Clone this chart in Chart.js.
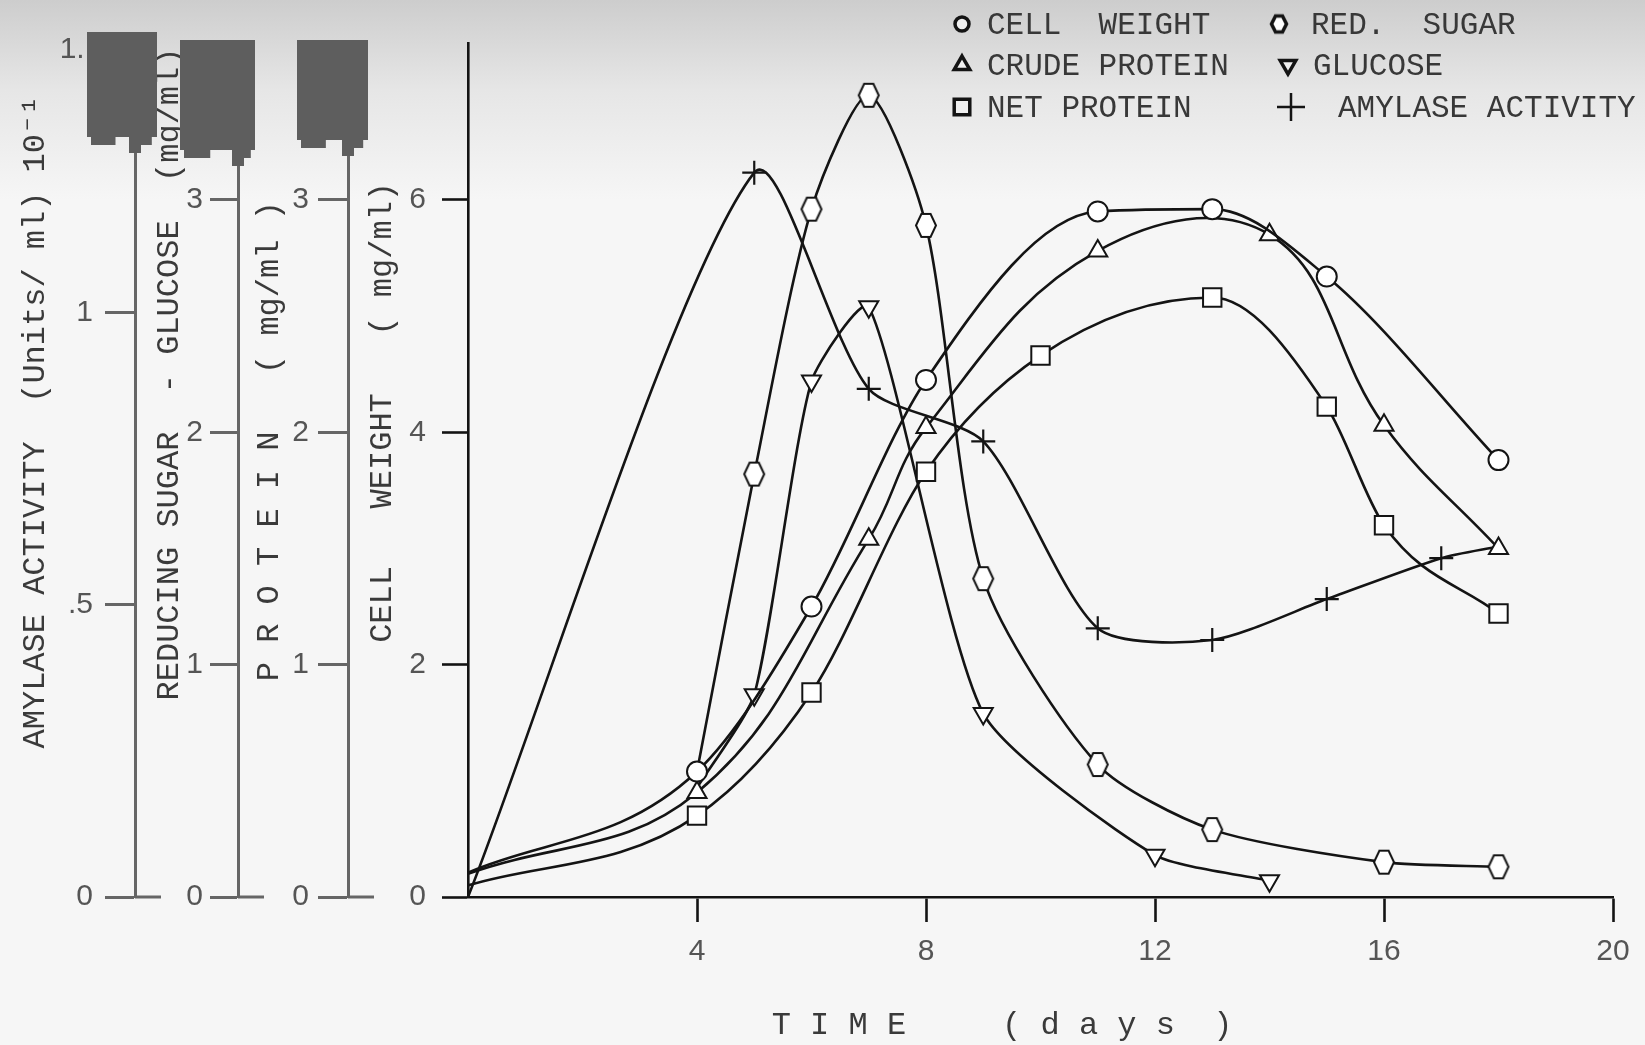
<!DOCTYPE html>
<html>
<head>
<meta charset="utf-8">
<script src="https://cdn.jsdelivr.net/npm/chart.js"></script>
<style>
  html, body { margin: 0; padding: 0; background: #f6f6f6; overflow: hidden; }
  #wrap { width: 1645px; height: 1045px; }
</style>
</head>
<body>
<div id="wrap"><canvas id="myChart" width="1645" height="1045"></canvas></div>
<script>
// values (days, and each series in its own axis units)
const cellDays = [0, 4, 6, 8, 11, 13, 15, 18];
const cellWeight = [0.21, 1.08, 2.50, 4.45, 5.90, 5.92, 5.34, 3.76];           // mg/ml
const crudeDays = [0, 4, 7, 8, 11, 14, 16, 18];
const crudeProtein = [0.10, 0.45, 1.54, 2.02, 2.78, 2.85, 2.03, 1.50];          // mg/ml
const netDays = [0, 4, 6, 8, 10, 13, 15, 16, 18];
const netProtein = [0.05, 0.35, 0.88, 1.83, 2.33, 2.58, 2.11, 1.60, 1.22];      // mg/ml
const sugarDays = [4, 5, 6, 7, 8, 9, 11, 13, 16, 18];
const redSugar = [0.54, 1.82, 2.96, 3.45, 2.89, 1.37, 0.57, 0.29, 0.15, 0.13];  // mg/ml
const glucoseDays = [4, 5, 6, 7, 9, 12, 14];
const glucose = [0.47, 0.87, 2.22, 2.54, 0.79, 0.18, 0.07];                     // mg/ml
const amylaseDays = [0, 5, 7, 9, 11, 13, 15, 17, 18];
const amylase = [0, 1.24, 0.87, 0.78, 0.46, 0.44, 0.51, 0.58, 0.60];            // units/ml x 10^-1

// tick labels
const dayTicks = [4, 8, 12, 16, 20];
const cellTicks = [0, 2, 4, 6];
const sugarTicks = [0, 1, 2, 3];
const proteinTicks = [0, 1, 2, 3];
const amylaseTicks = [0, 0.5, 1, 1.45];
const amylaseTickLabels = ['0', '.5', '1', '1. '];

const seriesNames = ['CELL  WEIGHT', 'CRUDE PROTEIN', 'NET PROTEIN', 'RED.  SUGAR', 'GLUCOSE', 'AMYLASE ACTIVITY'];

const MONO = '"Liberation Mono", "DejaVu Sans Mono", monospace';
const SANS = '"Liberation Sans", Arial, sans-serif';
const INK = '#141414';

const makeHexagon = (w, h, lw) => {
  const c = document.createElement('canvas');
  c.width = w + lw * 2;
  c.height = h + lw * 2;
  const g = c.getContext('2d');
  const ox = lw, oy = lw;
  g.lineWidth = lw;
  g.strokeStyle = INK;
  g.fillStyle = '#fff';
  g.beginPath();
  g.moveTo(ox, oy + h / 2);
  g.lineTo(ox + w * 0.27, oy);
  g.lineTo(ox + w * 0.73, oy);
  g.lineTo(ox + w, oy + h / 2);
  g.lineTo(ox + w * 0.73, oy + h);
  g.lineTo(ox + w * 0.27, oy + h);
  g.closePath();
  g.fill();
  g.stroke();
  return c;
};
const hexPoint = makeHexagon(20, 23, 2);
const hexLegend = makeHexagon(15, 16, 3.5);

const toXY = (days, vals) => days.map((d, i) => ({ x: d, y: vals[i] }));

// hidden: indices of points drawn without a marker
const makeSeries = (label, days, vals, axis, style, size, hidden, extra) => Object.assign({
  label: label,
  data: toXY(days, vals),
  yAxisID: axis,
  borderColor: INK,
  borderWidth: 2.6,
  tension: 0.4,
  fill: false,
  pointStyle: style,
  pointRadius: (ctx) => hidden.includes(ctx.dataIndex) ? 0 : size,
  pointBorderColor: INK,
  pointBackgroundColor: '#fff',
  pointBorderWidth: 2,
}, extra || {});

const configureData = () => ({
  datasets: [
    makeSeries(seriesNames[0], cellDays, cellWeight, 'cw', 'circle', 10, [0], { cubicInterpolationMode: 'monotone' }),
    makeSeries(seriesNames[1], crudeDays, crudeProtein, 'protein', 'triangle', 11, [0], { tension: 0.4 }),
    makeSeries(seriesNames[2], netDays, netProtein, 'protein', 'rect', 13, [0], { cubicInterpolationMode: 'monotone' }),
    makeSeries(seriesNames[3], sugarDays, redSugar, 'sugar', hexPoint, 9, [0], { tension: 0.25 }),
    makeSeries(seriesNames[4], glucoseDays, glucose, 'sugar', 'triangle', 11, [0], { tension: 0.2, pointRotation: 180 }),
    makeSeries(seriesNames[5], amylaseDays, amylase, 'amylase', 'cross', 12, [0, 8], { tension: 0.25, pointBorderWidth: 2.2 })
  ]
});

const fixedTicks = (values) => (scale) => { scale.ticks = values.map(v => ({ value: v })); };

const leftAxis = (o) => ({
  type: 'linear',
  position: 'left',
  weight: o.weight,
  min: 0,
  max: o.max,
  afterBuildTicks: fixedTicks(o.ticks),
  afterFit: (scale) => { scale.width = o.width; },
  border: { display: true, color: o.color, width: o.lineWidth },
  grid: { drawOnChartArea: false, drawTicks: true, tickLength: o.tickLength, tickColor: o.color, tickWidth: o.lineWidth },
  ticks: {
    padding: o.pad,
    color: '#555',
    font: { family: SANS, size: 30 },
    callback: o.callback || ((v) => String(v))
  },
  title: {
    display: true,
    text: o.title,
    color: '#3a3a3a',
    font: { family: MONO, size: 32 },
    padding: { top: o.titlePad, bottom: 0 }
  }
});

const paperPlugin = {
  id: 'paper',
  beforeDraw(chart) {
    const { ctx, width, height } = chart;
    ctx.save();
    const g = ctx.createLinearGradient(0, 0, 0, 200);
    g.addColorStop(0, '#cdcdcd');
    g.addColorStop(0.45, '#e6e6e6');
    g.addColorStop(1, '#f6f6f6');
    ctx.fillStyle = '#f6f6f6';
    ctx.fillRect(0, 0, width, height);
    ctx.fillStyle = g;
    ctx.fillRect(0, 0, width, 200);
    ctx.restore();
  },
  afterDraw(chart) {
    const { ctx, chartArea } = chart;
    ctx.save();
    // zero ticks crossing the three outer axes
    ['amylase', 'sugar', 'protein'].forEach((id) => {
      const s = chart.scales[id];
      const y = s.getPixelForValue(0);
      ctx.strokeStyle = '#666';
      ctx.lineWidth = 3;
      ctx.beginPath();
      ctx.moveTo(s.right, y);
      ctx.lineTo(s.right + 26, y);
      ctx.stroke();
    });
    // dark scanner blots at the top of the outer axes
    const blots = { amylase: [-48, 22, -11, 94], sugar: [-58, 17, -3, 107], protein: [-51, 20, -3, 97] };
    ctx.fillStyle = '#5e5e5e';
    Object.keys(blots).forEach((id) => {
      const s = chart.scales[id];
      const [l, r, t, b] = blots[id];
      const x0 = s.right + l, x1 = s.right + r, y0 = chartArea.top + t, y1 = chartArea.top + b;
      ctx.fillRect(x0, y0, x1 - x0, y1 - y0);
      ctx.fillRect(x0 + 4, y1 - 2, (x1 - x0) * 0.35, 10);
      ctx.fillRect(s.right - 6, y1 - 2, 12, 18);
      ctx.fillRect(s.right + 4, y1, (r - 6) * 0.8, 8);
    });
    // legend
    const items = [
      { ds: 0, mx: 962, tx: 987, y: 24 },
      { ds: 3, mx: 1279, tx: 1311, y: 24 },
      { ds: 1, mx: 962, tx: 987, y: 65 },
      { ds: 4, mx: 1288, tx: 1313, y: 65 },
      { ds: 2, mx: 962, tx: 987, y: 107 },
      { ds: 5, mx: 1291, tx: 1338, y: 107 }
    ];
    const legendStyle = [
      { pointStyle: 'circle', radius: 7, rotation: 0 },
      { pointStyle: 'triangle', radius: 9, rotation: 0 },
      { pointStyle: 'rect', radius: 11, rotation: 0 },
      { pointStyle: hexLegend, radius: 8, rotation: 0 },
      { pointStyle: 'triangle', radius: 9, rotation: 180 },
      { pointStyle: 'cross', radius: 14, rotation: 0 }
    ];
    items.forEach((it) => {
      const st = legendStyle[it.ds];
      ctx.strokeStyle = INK;
      ctx.fillStyle = '#f0f0f0';
      ctx.lineWidth = it.ds === 5 ? 2.5 : 3.5;
      if (Chart.helpers && Chart.helpers.drawPoint) {
        Chart.helpers.drawPoint(ctx, { pointStyle: st.pointStyle, radius: st.radius, rotation: st.rotation, borderWidth: ctx.lineWidth }, it.mx, it.y);
      }
      ctx.fillStyle = '#383838';
      ctx.font = '31px ' + MONO;
      ctx.textAlign = 'left';
      ctx.textBaseline = 'middle';
      ctx.fillText(chart.data.datasets[it.ds].label, it.tx, it.y + 2);
    });
    ctx.restore();
  }
};

const configureChart = (data) => ({
  type: 'line',
  data: data,
  options: {
    responsive: false,
    animation: false,
    devicePixelRatio: 1,
    layout: { padding: { top: 43, right: 32, left: 0, bottom: 0 } },
    plugins: { legend: { display: false }, tooltip: { enabled: false } },
    scales: {
      x: {
        type: 'linear',
        position: 'bottom',
        min: 0,
        max: 20,
        afterBuildTicks: fixedTicks(dayTicks),
        afterFit: (scale) => { scale.height = 148; },
        border: { display: true, color: INK, width: 2.6 },
        grid: { drawOnChartArea: false, drawTicks: true, tickLength: 25, tickColor: INK, tickWidth: 2.6 },
        ticks: { padding: 12, color: '#555', maxRotation: 0, font: { family: SANS, size: 30 } },
        title: {
          display: true,
          text: 'T I M E     ( d a y s  )    ',
          color: '#3a3a3a',
          font: { family: MONO, size: 32 },
          padding: { top: 0, bottom: 0 }
        }
      },
      cw: leftAxis({
        weight: 0, max: 7.35, ticks: cellTicks, width: 120, color: INK, lineWidth: 2.6,
        tickLength: 26, pad: 16, titlePad: 15, title: '      CELL   WEIGHT   ( mg/ml)'
      }),
      protein: leftAxis({
        weight: 1, max: 3.675, ticks: proteinTicks, width: 110, color: '#666', lineWidth: 3,
        tickLength: 30, pad: 9, titlePad: 12, title: '   P R O T E I N   ( mg/ml )'
      }),
      sugar: leftAxis({
        weight: 2, max: 3.675, ticks: sugarTicks, width: 103, color: '#666', lineWidth: 3,
        tickLength: 28, pad: 7, titlePad: 15, title: '          REDUCING SUGAR  - GLUCOSE  (mg/ml)'
      }),
      amylase: leftAxis({
        weight: 3, max: 1.462, ticks: amylaseTicks, width: 135, color: '#666', lineWidth: 3,
        tickLength: 30, pad: 12, titlePad: 16, title: '     AMYLASE ACTIVITY  (Units/ ml) 10\u207B\u00B9',
        callback: (v, i) => amylaseTickLabels[i]
      })
    }
  },
  plugins: [paperPlugin]
});

const renderChart = () => {
  const ctx = document.getElementById('myChart');
  const chart = new Chart(ctx, configureChart(configureData()));
};

window.onload = () => {
  renderChart();
};
</script>
</body>
</html>
